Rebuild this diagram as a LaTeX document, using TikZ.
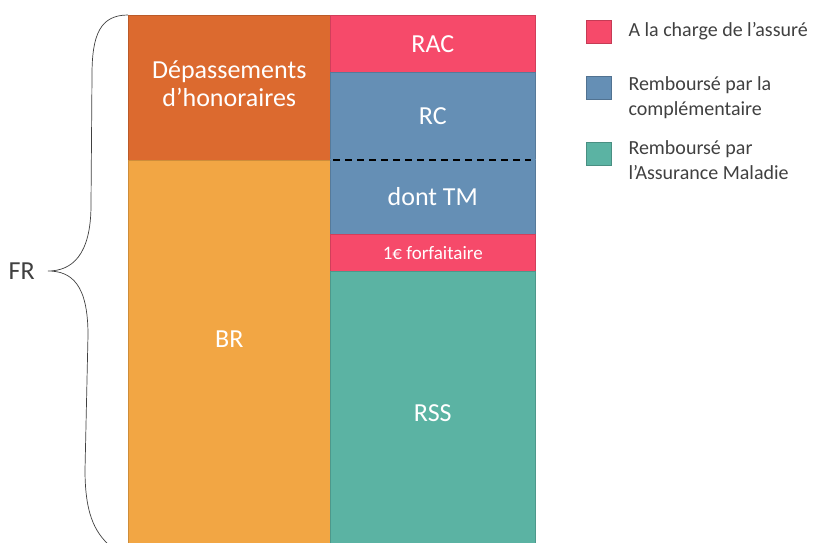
\documentclass[tikz,border=0pt]{standalone}
\usepackage{fontspec}
\setmainfont{Carlito}
\usetikzlibrary{positioning}
\definecolor{honor}{HTML}{DC6A2F}
\definecolor{baseremb}{HTML}{F2A644}
\definecolor{rac}{HTML}{F64A6A}
\definecolor{compl}{HTML}{658FB5}
\definecolor{amo}{HTML}{5BB3A3}
\definecolor{txt}{HTML}{404040}

\begin{document}
\begin{tikzpicture}[x=1pt, y=-1pt,
  box/.style    = {rectangle, anchor=north west, inner sep=0pt, text=white, align=center,
                   line width=0.6pt, font=\fontsize{26}{29}\selectfont},
  lcol/.style   = {box, minimum width=202pt},
  rcol/.style   = {box, minimum width=205pt},
  legsq/.style  = {rectangle, minimum width=25pt, minimum height=23pt, inner sep=0pt, line width=0.6pt},
  legtxt/.style = {inner sep=0pt, text=txt, align=left, font=\fontsize{20}{25}\selectfont},
  ]
  \clip (0,0) rectangle (816,543);
  % Left column: honoraires
  \node (dep) at (128,15)  [lcol, minimum height=145pt, fill=honor, draw=honor!85!black,
                            label={[text=white, font=\fontsize{26}{28}\selectfont, align=center, yshift=4pt]center:Dépassements\\d’honoraires}] {};
  \node (br)  at (128,160) [lcol, minimum height=420pt, fill=baseremb, draw=baseremb!85!black,
                            label={[text=white, font=\fontsize{26}{29}\selectfont, yshift=31pt]center:BR}] {};
  % Right column: remboursements
  \node (rac) at (330,15)  [rcol, minimum height=57pt, fill=rac, draw=rac!85!black] {RAC};
  \node (rc)  at (330,72)  [rcol, minimum height=87pt, fill=compl, draw=compl!85!black] {RC};
  \node (tm)  at (330,159) [rcol, minimum height=75pt, fill=compl, draw=compl!85!black] {dont TM};
  \node (forf) at (330,234) [rcol, minimum height=37pt, fill=rac, draw=rac!85!black,
                            font=\fontsize{19}{21}\selectfont] {1€ forfaitaire};
  \node (rss) at (330,271) [rcol, minimum height=300pt, fill=amo, draw=amo!85!black,
                            label={[text=white, font=\fontsize{26}{29}\selectfont, yshift=8pt]center:RSS}] {};
  \draw[compl] (rc.south west) -- (rc.south east);
  \draw[black, line width=2pt, dash pattern=on 7pt off 5pt]
  ([xshift=3pt]rc.south west) -- ([xshift=-5pt]rc.south east);

  % Brace FR
  \coordinate (tip) at (48,271);
  \draw[txt, line width=0.7pt]
  (dep.north west) .. controls (100,15) and (92,35) .. (92,75)
                   -- (91,205) .. controls (91,255) and (72,271) .. (tip)
                   .. controls (72,271) and (88,285) .. (88,335)
                   -- (85,470) .. controls (85,520) and (98,535) .. (112,548);
  \node (fr) [left=13pt of tip, inner sep=0pt, text=txt, font=\fontsize{26}{29}\selectfont] {FR};

  % Legend
  \node (sqA) at (598.5,31.5)  [legsq, fill=rac, draw=rac!80!black] {};
  \node (sqB) at (598.5,88)    [legsq, fill=compl, draw=compl!80!black] {};
  \node (sqC) at (598.5,154)   [legsq, fill=amo, draw=amo!80!black] {};
  \node (ltA) [legtxt, right=17pt of sqA] {A la charge de l’assuré};
  \node (ltB) [legtxt, anchor=north west] at ([xshift=17pt]sqB.north east) {Remboursé par la\\complémentaire};
  \node (ltC) [legtxt, anchor=north west] at ([xshift=17pt, yshift=2pt]sqC.north east) {Remboursé par\\l’Assurance Maladie};
\end{tikzpicture}
\end{document}
